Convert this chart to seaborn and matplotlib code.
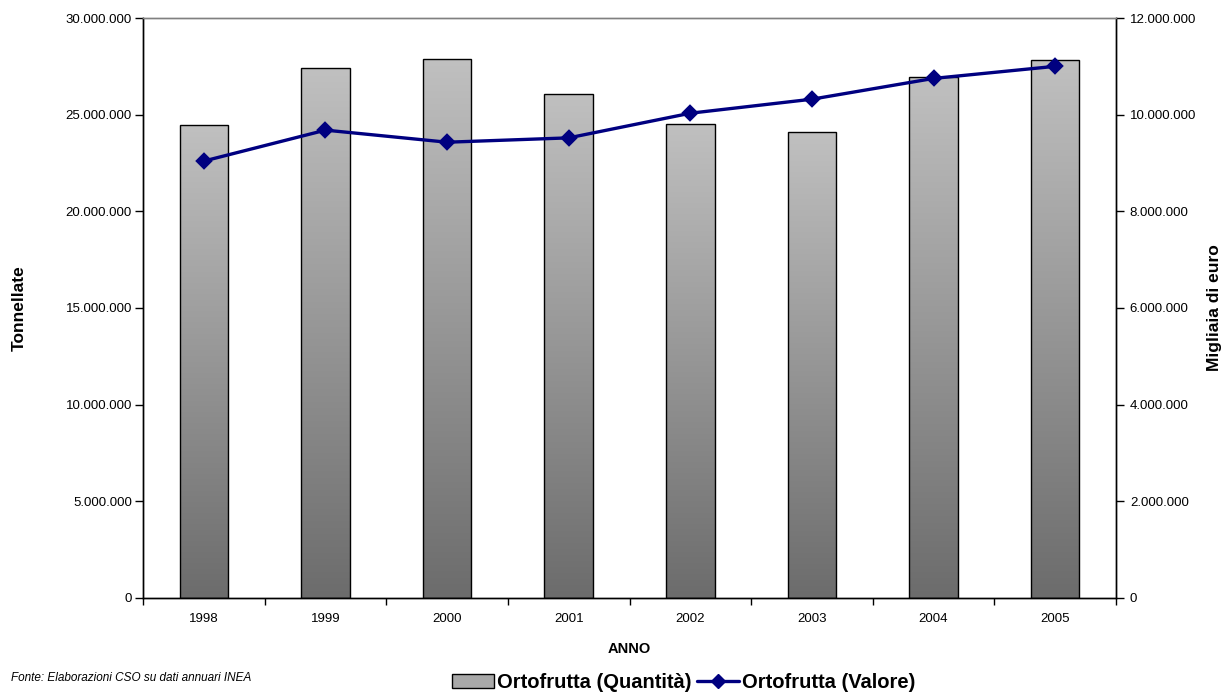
import numpy as np
import pandas as pd
import seaborn as sns
import matplotlib
matplotlib.use("Agg")
from matplotlib import pyplot as plt
from matplotlib.ticker import FuncFormatter, FixedLocator
from matplotlib.colors import LinearSegmentedColormap
from matplotlib.patches import Patch
from matplotlib.lines import Line2D

anni = ["1998", "1999", "2000", "2001", "2002", "2003", "2004", "2005"]
quantita = [24460000, 27410000, 27900000, 26070000, 24540000, 24100000, 26950000, 27850000]
valore = [9040000, 9680000, 9430000, 9520000, 10030000, 10320000, 10750000, 11000000]

sns.set_style("white")
plt.rcParams['font.family'] = ['Liberation Sans', 'DejaVu Sans']
plt.rcParams['text.color'] = "black"
plt.rcParams['axes.labelcolor'] = "black"
plt.rcParams['xtick.color'] = "black"
plt.rcParams['ytick.color'] = "black"

df = pd.DataFrame({"anno": anni, "quantita": quantita, "valore": valore})

fig = plt.figure(figsize=(12.3, 6.95), dpi=100)
ax = fig.add_axes([0.1163, 0.1396, 0.7910, 0.8345])

sns.barplot(data=df, x="anno", y="quantita", ax=ax, width=0.4,
            color="#bdbdbd", edgecolor="black", linewidth=1)

# gradient fill inside each bar (dark bottom -> light top)
cmap = LinearSegmentedColormap.from_list("g", ["#6c6c6c", "#c0c0c0"])
grad = np.linspace(0, 1, 256).reshape(-1, 1)
for p in list(ax.patches):
    x0, y0 = p.get_x(), p.get_y()
    w, h = p.get_width(), p.get_height()
    im = ax.imshow(grad, extent=[x0, x0 + w, y0, y0 + h], origin="lower",
                   cmap=cmap, aspect="auto", zorder=p.get_zorder() - 0.1)
    im.set_clip_path(p)
    p.set_facecolor("none")

ax.set_xlim(-0.5, 7.5)
ax.set_ylim(0, 30000000)
ax.set_yticks(np.arange(0, 30000001, 5000000))
fmt = FuncFormatter(lambda v, _: f"{int(v):,}".replace(",", "."))
ax.yaxis.set_major_formatter(fmt)

ax2 = ax.twinx()
sns.pointplot(data=df, x="anno", y="valore", ax=ax2, color="#000080",
              markers="D", markersize=7, linewidth=2.4)
ax2.set_xlim(-0.5, 7.5)
ax2.set_ylim(0, 12000000)
ax2.set_yticks(np.arange(0, 12000001, 2000000))
ax2.yaxis.set_major_formatter(fmt)

# ticks
ax.tick_params(axis="x", which="major", length=0, labelsize=9.5, pad=11)
ax.xaxis.set_minor_locator(FixedLocator(np.arange(-0.5, 8, 1)))
ax.tick_params(axis="x", which="minor", length=5, color="black", width=1, direction="out", bottom=True)
ax.tick_params(axis="y", length=6, color="black", width=1, direction="out", left=True, labelsize=9.5, pad=2)
ax2.tick_params(axis="y", length=6, color="black", width=1, direction="out", right=True, labelsize=9.5, pad=4)

for a in (ax, ax2):
    a.spines["top"].set_color("#808080")
    a.spines["left"].set_color("black")
    a.spines["right"].set_color("black")
    a.spines["bottom"].set_color("black")
    for s in a.spines.values():
        s.set_linewidth(1)

ax.set_xlabel("ANNO", fontsize=10.5, fontweight="bold", labelpad=12)
ax.set_ylabel("Tonnellate", fontsize=12.5, fontweight="bold", labelpad=28)
ax2.set_ylabel("Migliaia di euro", fontsize=12.5, fontweight="bold", labelpad=8)
ax2.set_xlabel("")

handles = [Patch(facecolor="#a8a8a8", edgecolor="black"),
           Line2D([0], [0], color="#000080", lw=2.4, marker="D", markersize=7)]
fig.legend(handles, ["Ortofrutta (Quantità)", "Ortofrutta (Valore)"],
           loc="center", bbox_to_anchor=(0.556, 0.018), ncol=2, frameon=False,
           prop={"size": 14.5, "weight": "bold"}, handlelength=2.1,
           handletextpad=0.15, columnspacing=0.25, borderpad=0.1)

fig.text(0.009, 0.025, "Fonte: Elaborazioni CSO su dati annuari INEA",
         fontsize=8.5, style="italic", va="center")

fig.savefig("out.png", dpi=100)
